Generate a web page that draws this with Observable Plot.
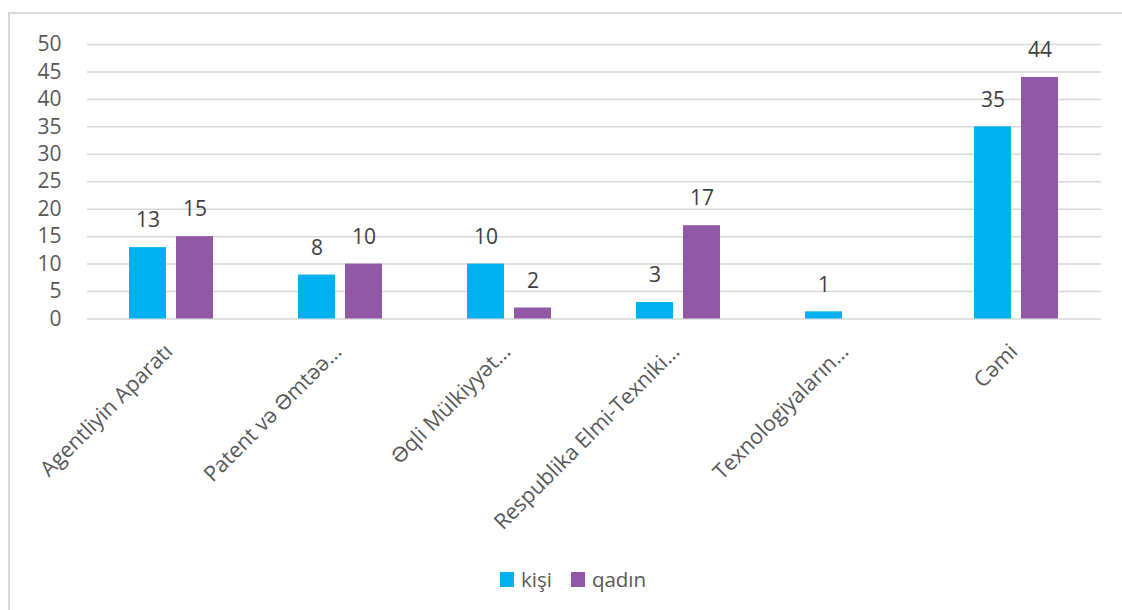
<!DOCTYPE html>
<html>
<head>
<meta charset="utf-8">
<script src="https://cdn.jsdelivr.net/npm/d3@7"></script>
<script src="https://cdn.jsdelivr.net/npm/@observablehq/plot@0.6"></script>
<style>
  html, body { margin: 0; padding: 0; background: #fff; overflow: hidden; }
  #wrap { position: relative; width: 1122px; height: 610px; font-family: "Open Sans", sans-serif; }
  #frame { position: absolute; left: 8px; top: 12px; width: 1140px; height: 640px; border: 2px solid #d9d9d9; box-sizing: border-box; }
  #chart { position: absolute; left: 0; top: 0; }
  #legend { position: absolute; left: 500px; top: 565px; display: flex; align-items: center; font-size: 20.5px; color: #595959; }
  .sw { width: 14px; height: 15px; display: inline-block; margin-right: 7px; }
  .item { display: flex; align-items: center; margin-right: 19px; }
</style>
</head>
<body>
<div id="wrap">
  <div id="frame"></div>
  <div id="chart"></div>
  <div id="legend"></div>
</div>
<script>
const categories = ["Agentliyin Aparatı", "Patent və Əmtəə…", "Əqli Mülkiyyət…", "Respublika Elmi-Texniki…", "Texnologiyaların…", "Cəmi"];
const series = ["kişi", "qadın"];
const kisi = [13, 8, 10, 3, 1.3, 35];
const qadin = [15, 10, 2, 17, null, 44];
const yTicks = [0, 5, 10, 15, 20, 25, 30, 35, 40, 45, 50];
const colors = ["#00b0f0", "#9159a5"];

const data = [];
categories.forEach((c, i) => {
  data.push({cat: c, sex: series[0], v: kisi[i]});
  data.push({cat: c, sex: series[1], v: qadin[i]});
});
const valid = data.filter(d => d.v != null);

const chart = Plot.plot({
  width: 1122,
  height: 560,
  marginLeft: 85,
  marginRight: 20,
  marginTop: 44,
  marginBottom: 241.5,
  style: {fontFamily: "Open Sans, sans-serif", fontSize: "20px", color: "#595959", background: "transparent"},
  fx: {domain: categories, padding: 0, label: null},
  x: {domain: series, paddingInner: 0.208, paddingOuter: 0.87, axis: null},
  y: {domain: [0, 50], label: null},
  color: {domain: series, range: colors},
  marks: [
    Plot.gridY(yTicks, {stroke: "#d9d9d9", strokeOpacity: 1, strokeWidth: 1.5}),
    Plot.barY(valid, {fx: "cat", x: "sex", y: "v", fill: "sex"}),
    Plot.text(valid, {fx: "cat", x: "sex", y: "v", text: d => d3.format(".0f")(d.v), dy: -27, fill: "#404040", fontSize: 21}),
    Plot.axisY({ticks: yTicks, tickSize: 0, tickPadding: 26, fontSize: 21, fill: "#595959", label: null}),
    Plot.axisFx({anchor: "bottom", tickRotate: -45, tickSize: 0, tickPadding: 29, dx: -3, fontSize: 21.5, fill: "#595959", label: null})
  ]
});
document.getElementById("chart").appendChild(chart);

const legend = document.getElementById("legend");
series.forEach((s, i) => {
  const item = document.createElement("div");
  item.className = "item";
  const sw = document.createElement("span");
  sw.className = "sw";
  sw.style.background = colors[i];
  const t = document.createElement("span");
  t.textContent = s;
  item.appendChild(sw);
  item.appendChild(t);
  legend.appendChild(item);
});
</script>
</body>
</html>
